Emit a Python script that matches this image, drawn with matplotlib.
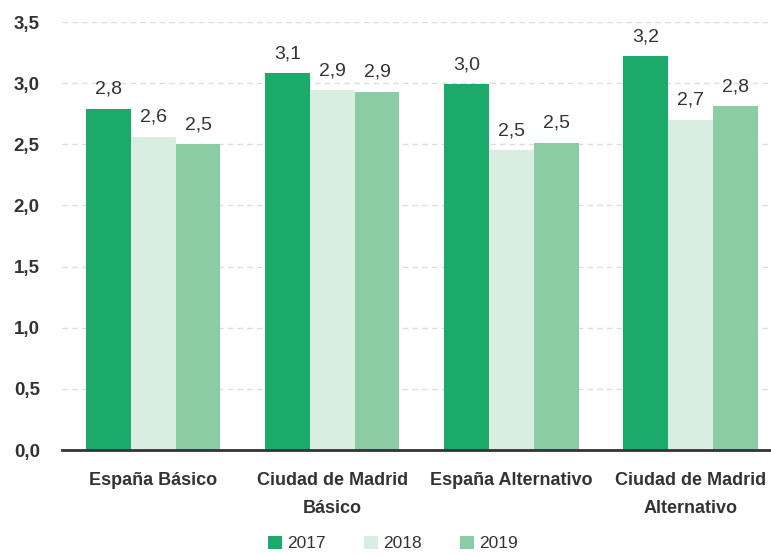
import matplotlib.pyplot as plt
import numpy as np

plt.rcParams["font.family"] = ["Liberation Sans", "DejaVu Sans"]

categories = ["España Básico", "Ciudad de Madrid\nBásico", "España Alternativo", "Ciudad de Madrid\nAlternativo"]
years = ["2017", "2018", "2019"]
v2017 = [2.79, 3.08, 2.99, 3.22]
v2018 = [2.56, 2.94, 2.45, 2.70]
v2019 = [2.50, 2.93, 2.51, 2.81]
labels2017 = ["2,8", "3,1", "3,0", "3,2"]
labels2018 = ["2,6", "2,9", "2,5", "2,7"]
labels2019 = ["2,5", "2,9", "2,5", "2,8"]
yticks = [0, 0.5, 1.0, 1.5, 2.0, 2.5, 3.0, 3.5]

colors = ["#1caa6b", "#d9eee0", "#8acda4"]
text_color = "#333333"

fig = plt.figure(figsize=(7.71, 5.56), dpi=100)
ax = fig.add_axes([62 / 771, 106 / 556, 1 - 62 / 771, 428 / 556])

x = np.arange(len(categories))
w = 0.25
series = [v2017, v2018, v2019]
texts = [labels2017, labels2018, labels2019]
for i, (vals, labs) in enumerate(zip(series, texts)):
    pos = x + (i - 1) * w
    ax.bar(pos, vals, width=w, color=colors[i], label=years[i], zorder=3)
    for px, v, t in zip(pos, vals, labs):
        ax.annotate(t, (px, v), xytext=(0, 8), textcoords="offset points",
                    ha="center", va="bottom", fontsize=14, color=text_color)

ax.set_xlim(-0.51, 3.45)
ax.set_ylim(0, 3.5)
ax.set_yticks(yticks)
ax.set_yticklabels([f"{t:.1f}".replace(".", ",") for t in yticks],
                   fontsize=13.5, fontweight="bold", color=text_color)
ax.set_xticks(x)
ax.set_xticklabels(categories, fontsize=13, fontweight="bold", color=text_color,
                   linespacing=1.8)
ax.tick_params(axis="both", length=0)
ax.tick_params(axis="y", pad=16)
ax.tick_params(axis="x", pad=16)
ax.yaxis.grid(True, linestyle=(0, (4, 3)), color="#dddddd", linewidth=1, zorder=0)
for s in ["top", "right", "left"]:
    ax.spines[s].set_visible(False)
ax.spines["bottom"].set_linewidth(2)
ax.spines["bottom"].set_color(text_color)
ax.spines["bottom"].set_zorder(4)

leg = fig.legend(loc="lower center", bbox_to_anchor=(0.51, -0.02), ncol=3, frameon=False,
                 fontsize=12.5, handlelength=0.8, handleheight=0.8, handletextpad=0.3,
                 columnspacing=2.2)
for t in leg.get_texts():
    t.set_color(text_color)

fig.savefig("out.png", dpi=100)
